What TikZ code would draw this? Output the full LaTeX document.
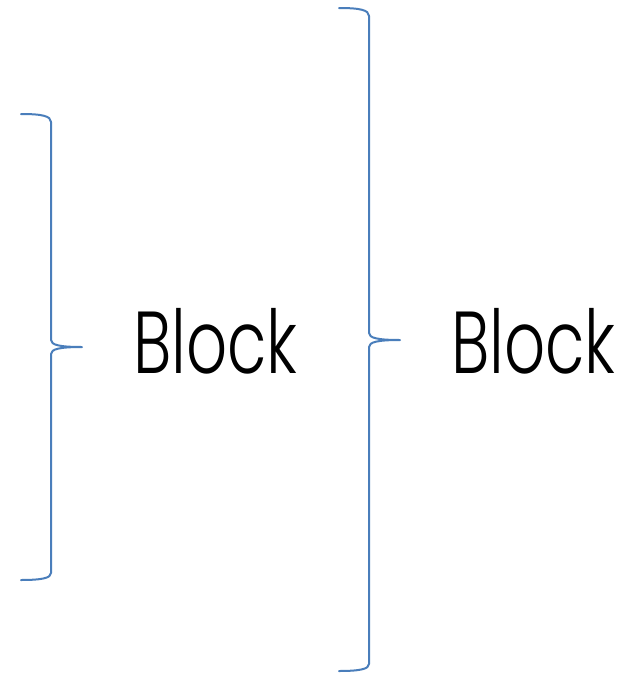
\documentclass[tikz,border=0pt]{standalone}
\usepackage{fontspec}
\setmainfont{Poppins Light}
\definecolor{braceblue}{HTML}{4A7EBB}
\begin{document}
\begin{tikzpicture}[x=1pt,y=-1pt,
  bracepath/.style={draw=braceblue,line width=2pt,line cap=round,line join=round},
  blocktext/.style={inner sep=0pt,anchor=base west,font=\fontsize{88}{88}\selectfont}]
\useasboundingbox (0,0) rectangle (635,673);
% left brace
\draw[bracepath] (21,114) .. controls (42,114) and (51,116) .. (51,122)
  -- (51,340) .. controls (51,345) and (60,347) .. (82,347)
  .. controls (60,347) and (51,349) .. (51,354)
  -- (51,573) .. controls (51,578) and (42,580) .. (21,580);
% right brace
\draw[bracepath] (339,8) .. controls (360,8) and (369,10) .. (369,16)
  -- (369,333) .. controls (369,338) and (378,340) .. (400,340)
  .. controls (378,340) and (369,342) .. (369,347)
  -- (369,664) .. controls (369,669) and (360,671) .. (339,671);
\node[blocktext] (b1) at (133,373) {\scalebox{0.73}[1]{Block}};
\node[blocktext] (b2) at (451,373) {\scalebox{0.73}[1]{Block}};
\end{tikzpicture}
\end{document}
